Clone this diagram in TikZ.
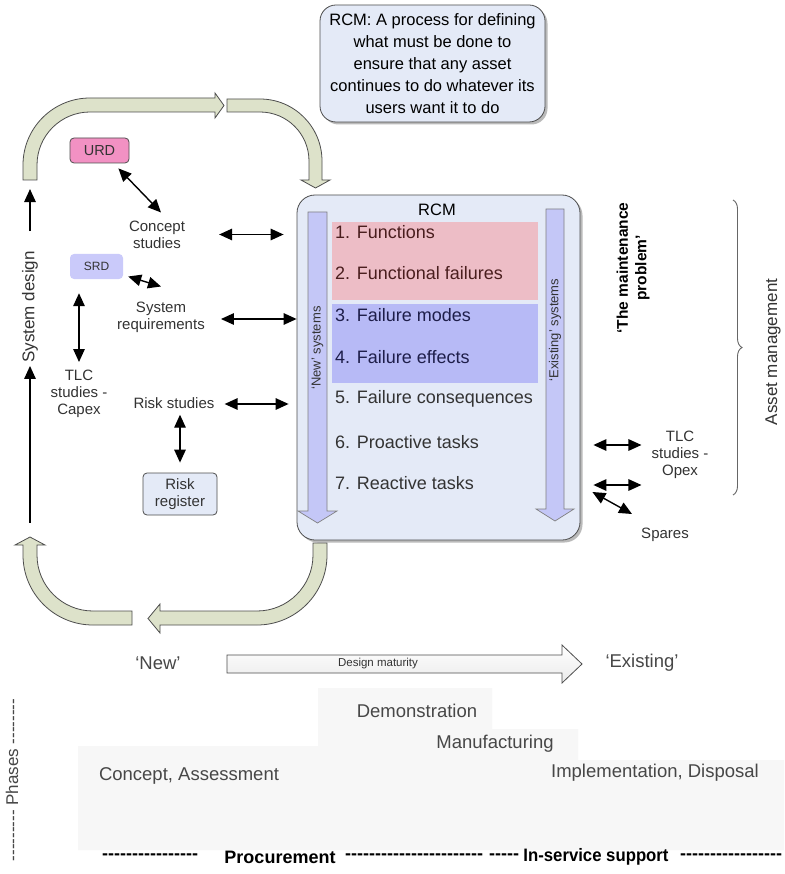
\documentclass[tikz,border=0pt]{standalone}
\usepackage{fontspec}
\setmainfont{Liberation Sans}
\usetikzlibrary{arrows.meta,shadows,decorations.pathreplacing,calc}
\definecolor{greenfill}{HTML}{DDE2CA}
\definecolor{boxfill}{HTML}{E4EAF7}
\definecolor{lav}{HTML}{C4C7F7}
\definecolor{pinkband}{HTML}{EDBDC6}
\definecolor{blueband}{HTML}{B7BAF6}
\definecolor{urdpink}{HTML}{F291C3}
\definecolor{srdblue}{HTML}{CACAFA}
\definecolor{txt}{HTML}{333333}
\definecolor{edge}{HTML}{4D4D4D}
\definecolor{phasefill}{HTML}{F7F7F7}
\definecolor{itemred}{HTML}{4A1E1E}
\definecolor{itemblue}{HTML}{1E1E4A}
\newcommand\hyp[1]{\foreach\k in {1,...,#1}{-\kern0pt}}
\begin{document}
\begin{tikzpicture}[x=1pt,y=-1pt,
  bigarrow/.style={fill=greenfill,draw=edge,line width=0.8pt,line join=miter},
  lavarrow/.style={fill=lav,draw=black!50,line width=0.7pt},
  dbl/.style={{Triangle[length=13pt,width=11.5pt]}-{Triangle[length=13pt,width=11.5pt]},line width=1.4pt,black},
  uparr/.style={-{Triangle[length=13pt,width=11.5pt]},line width=1.4pt,black},
  lbl/.style={text=txt,font=\fontsize{15}{17}\selectfont,align=center,inner sep=0pt},
  item/.style={anchor=west,font=\fontsize{18}{20}\selectfont,inner sep=0pt},
  phase/.style={text=black!72,font=\fontsize{18.5}{20}\selectfont,inner sep=0pt},
  botline/.style={text=black,font=\bfseries\fontsize{18}{20}\selectfont,inner sep=0pt},
  smallbox/.style={rounded corners=4pt,inner sep=0pt,text=txt},
  shad/.style={drop shadow={shadow xshift=2.5pt,shadow yshift=-2.5pt,opacity=0.45,fill=black!60}}
]
\useasboundingbox (0,0) rectangle (784,874);
\fill[white] (0,0) rectangle (784,874);

% ---------- note box
\node[shad,draw=edge,line width=0.8pt,fill=boxfill,rounded corners=16pt,minimum width=225pt,minimum height=117pt,
      align=center,text=black,font=\fontsize{16.5}{22}\selectfont,inner sep=0pt] (note) at (432.5,63.5)
  {RCM: A process for defining\\what must be done to\\ensure that any asset\\continues to do whatever its\\users want it to do};

% ---------- big green loop arrows
\draw[bigarrow] (23,180) -- (23,165) arc[start angle=180,end angle=270,radius=67] -- (215,98) -- (215,93) -- (224,105.5)
  -- (215,118) -- (215,112) -- (90,112) arc[start angle=270,end angle=180,radius=53] -- (37,180) -- cycle;
\draw[bigarrow] (227,99) -- (260,99) arc[start angle=270,end angle=360,radius=62] -- (322,180) -- (330,180) -- (315.5,188)
  -- (301,180) -- (309,180) -- (309,161) arc[start angle=0,end angle=-90,radius=49] -- (227,112) -- cycle;
\draw[bigarrow] (313,543) -- (327,543) -- (327,555) arc[start angle=0,end angle=90,radius=70] -- (160,625) -- (160,633)
  -- (148,618.5) -- (160,604) -- (160,611) -- (257,611) arc[start angle=90,end angle=0,radius=56] -- cycle;
\draw[bigarrow] (132,625) -- (93,625) arc[start angle=90,end angle=180,radius=70] -- (23,545) -- (15,545) -- (30,537)
  -- (45,545) -- (37,545) -- (37,555) arc[start angle=180,end angle=90,radius=56] -- (132,611) -- cycle;

% ---------- RCM box
\node[shad,draw=edge,line width=0.8pt,fill=boxfill,rounded corners=18pt,minimum width=283pt,minimum height=345pt,inner sep=0pt] (rcm) at (438.5,367.5) {};
\fill[pinkband] (332,222) rectangle (538,300);
\fill[blueband] (332,304) rectangle (538,383);
\node[font=\fontsize{16.5}{18}\selectfont,inner sep=0pt,text=black] (rcmtitle) at (437,210) {RCM};
\draw[lavarrow] (308,212) -- (327,212) -- (327,511) -- (337,511) -- (317.5,523) -- (298,511) -- (308,511) -- cycle;
\draw[lavarrow] (546,209) -- (564,209) -- (564,509) -- (574,509) -- (555,521) -- (536,509) -- (546,509) -- cycle;
\node[rotate=90,font=\fontsize{13}{14}\selectfont,text=txt,inner sep=0pt] (newsys) at (317.5,348) {‘New’ systems};
\node[rotate=90,font=\fontsize{13}{14}\selectfont,text=txt,inner sep=0pt] (exsys) at (555,330) {‘Existing’ systems};
\node[item,text=itemred] (i1) at (335,232) {1. Functions};
\node[item,text=itemred] (i2) at (335,273) {2. Functional failures};
\node[item,text=itemblue] (i3) at (335,315) {3. Failure modes};
\node[item,text=itemblue] (i4) at (335,357) {4. Failure effects};
\node[item,text=txt] (i5) at (335,399) {5. Failure consequences};
\node[item,text=txt] (i6) at (335,442) {6. Proactive tasks};
\node[item,text=txt] (i7) at (335,483) {7. Reactive tasks};

% ---------- left side
\node[smallbox,draw=edge,line width=0.8pt,fill=urdpink,minimum width=59pt,minimum height=25pt,font=\fontsize{14.5}{16}\selectfont] (urd) at (99.5,150.5) {URD};
\node[smallbox,fill=srdblue,minimum width=53pt,minimum height=25pt,font=\fontsize{12}{14}\selectfont] (srd) at (96.5,266.5) {SRD};
\node[lbl] (concept) at (157,234.5) {Concept\\studies};
\node[lbl] (sysreq) at (161,317) {System\\requirements};
\node[lbl] (tlccap) at (79,394) {TLC\\studies -\\Capex};
\node[lbl] (risk) at (174,403) {Risk studies};
\node[smallbox,draw=edge,line width=0.8pt,fill=boxfill,minimum width=74pt,minimum height=42pt,align=center,font=\fontsize{15}{17}\selectfont] (riskreg) at (180,494) {Risk\\register};
\node[rotate=90,text=txt,font=\fontsize{17}{20}\selectfont,inner sep=0pt] (sysdesign) at (30,307) {System design};

\draw[dbl] ($(urd.south east)+(-11,5)$) -- ($(concept.north)+(4,-8)$);
\draw[dbl] ($(concept.east)+(34,0)$) -- ($(rcm.west|-concept.east)+(-13,0)$);
\draw[dbl] ($(srd.east)+(5,10)$) -- ($(sysreq.north)+(0,-15)$);
\draw[dbl] ($(sysreq.east)+(16,2)$) -- (rcm.west|-{$(sysreq.east)+(0,2)$});
\draw[dbl] ($(srd.south)+(-17.5,14)$) -- ($(tlccap.north)+(0,-8)$);
\draw[dbl] ($(risk.east)+(10,1)$) -- ($(rcm.west|-risk.east)+(-8,1)$);
\draw[dbl] ($(risk.south)+(6,6)$) -- ($(riskreg.north)+(0,-10)$);
\draw[uparr] ($(sysdesign.west)+(0,160)$) -- ($(sysdesign.west)+(0,3)$);
\draw[uparr] ($(sysdesign.east)+(0,-20)$) -- ($(sysdesign.east)+(0,-62)$);

% ---------- right side
\node[rotate=90,font=\bfseries\fontsize{15.5}{18.5}\selectfont,align=center,text=black,inner sep=0pt] (maint) at (633,268) {‘The maintenance\\problem’};
\draw[decorate,decoration={brace,amplitude=9pt},draw=black!60,line width=0.9pt] (733,200) -- (733,495);
\node[rotate=90,text=txt,font=\fontsize{17}{18}\selectfont,inner sep=0pt] (asset) at (773,352) {Asset management};
\node[lbl] (tlcop) at (680,455) {TLC\\studies -\\Opex};
\node[lbl] (spares) at (665,535) {Spares};
\draw[dbl] ($(rcm.east)+(13,77.5)$) -- ($(tlcop.west)+(-10,-10)$);
\draw[dbl] ($(rcm.east)+(13,117.5)$) -- ($(tlcop.west)+(-10,30)$);
\draw[dbl] ($(rcm.east)+(12,124.5)$) -- ($(spares.north)+(-33,-14)$);

% ---------- bottom
\node[phase] (new) at (158,663) {‘New’};
\draw[draw=edge,line width=0.8pt,top color=white,bottom color=black!8] (227,655) -- (562,655) -- (562,645) -- (582,664) -- (562,683) -- (562,673) -- (227,673) -- cycle;
\node[font=\fontsize{11.5}{12}\selectfont,text=txt,inner sep=0pt] (dm) at (378,663.5) {Design maturity};
\node[phase] (exist) at (642,663) {‘Existing’};

\fill[phasefill] (78,746) -- (318,746) -- (318,688) -- (492,688) -- (492,729) -- (578,729) -- (578,760) -- (784,760) -- (784,850) -- (78,850) -- cycle;
\node[phase] (demo) at (417,711) {Demonstration};
\node[phase] (manu) at (495,744) {Manufacturing};
\node[phase] (conc) at (189,776) {Concept, Assessment};
\node[phase] (impl) at (655,773) {Implementation, Disposal};
\node[rotate=90,text=black!72,font=\fontsize{17}{20}\selectfont,inner sep=0pt] (phases) at (12,780) {\hyp{9} Phases \hyp{8}};

\node[botline,anchor=west] (d1) at (102,857) {\hyp{16}};
\node[botline] (proc) at (280,857) {Procurement};
\node[botline,anchor=west] (d2) at (345,857) {\hyp{23}};
\node[botline,anchor=west] (d3) at (489,857) {\hyp{5}};
\node[botline] (insvc) at (596,857) {\scalebox{0.93}[1]{In-service support}};
\node[botline,anchor=west] (d4) at (680,857) {\hyp{17}};
\end{tikzpicture}
\end{document}
